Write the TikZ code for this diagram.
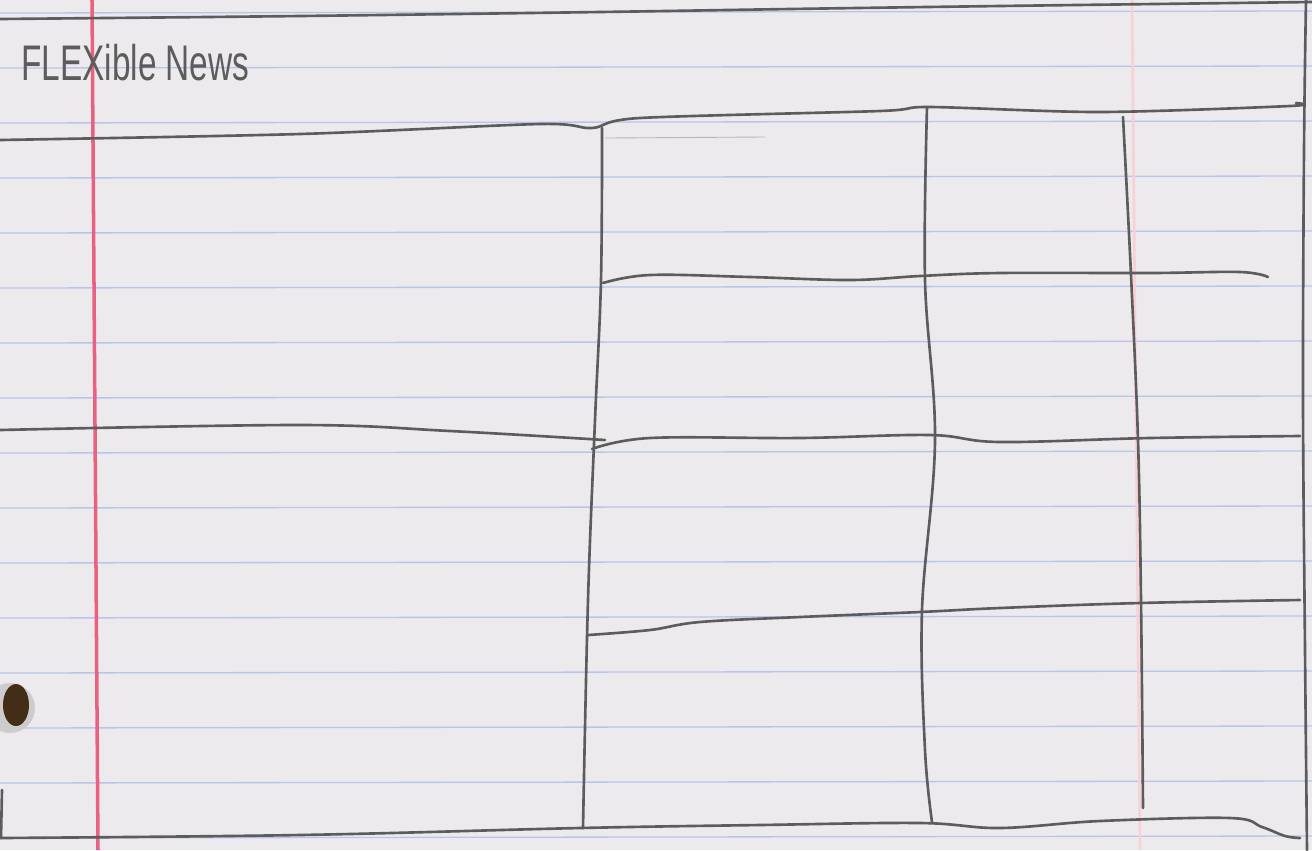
\documentclass[tikz,border=0pt]{standalone}
\usepackage{fontspec}
\setsansfont{Liberation Sans}
\definecolor{paper}{HTML}{EDEAEE}
\definecolor{rule}{HTML}{BAC4E8}
\definecolor{margin}{HTML}{E8627F}
\definecolor{pencil}{HTML}{5C5C5C}

\begin{document}
\begin{tikzpicture}[x=0.02cm, y=-0.02cm,
    sketch/.style={draw=pencil, line width=1.5pt, line cap=round, line join=round},
    faint/.style={draw=pencil!45, line width=0.5pt}]
    \useasboundingbox (0,0) rectangle (1312,850);

    % paper and ruling
        \fill[paper] (0,0) rectangle (1312,850);
        \foreach \y in {13,68,...,838}
            \draw[rule, line width=0.75pt] (0,\y) -- (1312,\y-2);
        \draw[margin, line width=2pt] (92,0) -- (98,850);
        \draw[margin!30, line width=1.5pt] (1132,0) -- (1140,850);

    % punched hole
        \fill[gray!40] (10,708) circle (25);
        \fill[brown!35!black] (16,705) ellipse (13 and 21);

    % title
        \node[anchor=base west, text=pencil, font=\sffamily\fontsize{19}{19}\selectfont,
              yscale=1.5] (title) at (15,80) {FLEXible News};

    % page frame
        \draw[sketch] plot[smooth, tension=0.6] coordinates
            {(0,19) (300,16) (600,12) (790,9) (1000,6) (1312,2)};
        \draw[sketch] plot[smooth, tension=0.6] coordinates
            {(1306,0) (1304,150) (1303,400) (1305,650) (1307,850)};
        \draw[sketch] (2,790) -- (1,838);
        \draw[sketch] plot[smooth, tension=0.6] coordinates
            {(0,838) (300,835) (580,828) (760,825) (920,823) (1000,828)
             (1100,821) (1230,818) (1262,827) (1285,836) (1300,838)};

    % header rule
        \draw[sketch] plot[smooth, tension=0.5] coordinates
            {(0,140) (300,134) (540,124) (592,128) (640,118) (880,111)
             (930,107) (1100,112) (1290,106) (1296,103)};
        \draw[faint] (605,138) -- (765,137);

    % columns
        \draw[sketch] plot[smooth, tension=0.6] coordinates
            {(602,128) (601,280) (595,420) (588,600) (583,828)};
        \draw[sketch] plot[smooth, tension=0.6] coordinates
            {(927,107) (925,280) (935,440) (922,610) (925,750) (932,822)};
        \draw[sketch] plot[smooth, tension=0.6] coordinates
            {(1123,117) (1131,275) (1138,440) (1141,600) (1143,808)};

    % rows
        \draw[sketch] plot[smooth, tension=0.6] coordinates
            {(603,283) (650,275) (750,277) (850,280) (920,276)
             (1000,273) (1150,273) (1240,272) (1268,277)};
        \draw[sketch] plot[smooth, tension=0.6] coordinates
            {(0,430) (300,425) (450,431) (605,440)};
        \draw[sketch] plot[smooth, tension=0.6] coordinates
            {(592,449) (650,438) (800,438) (930,435) (1000,442)
             (1150,438) (1300,436)};
        \draw[sketch] plot[smooth, tension=0.6] coordinates
            {(588,635) (650,630) (700,622) (800,617) (920,612)
             (1000,608) (1140,603) (1300,600)};

    \end{tikzpicture}
\end{document}
